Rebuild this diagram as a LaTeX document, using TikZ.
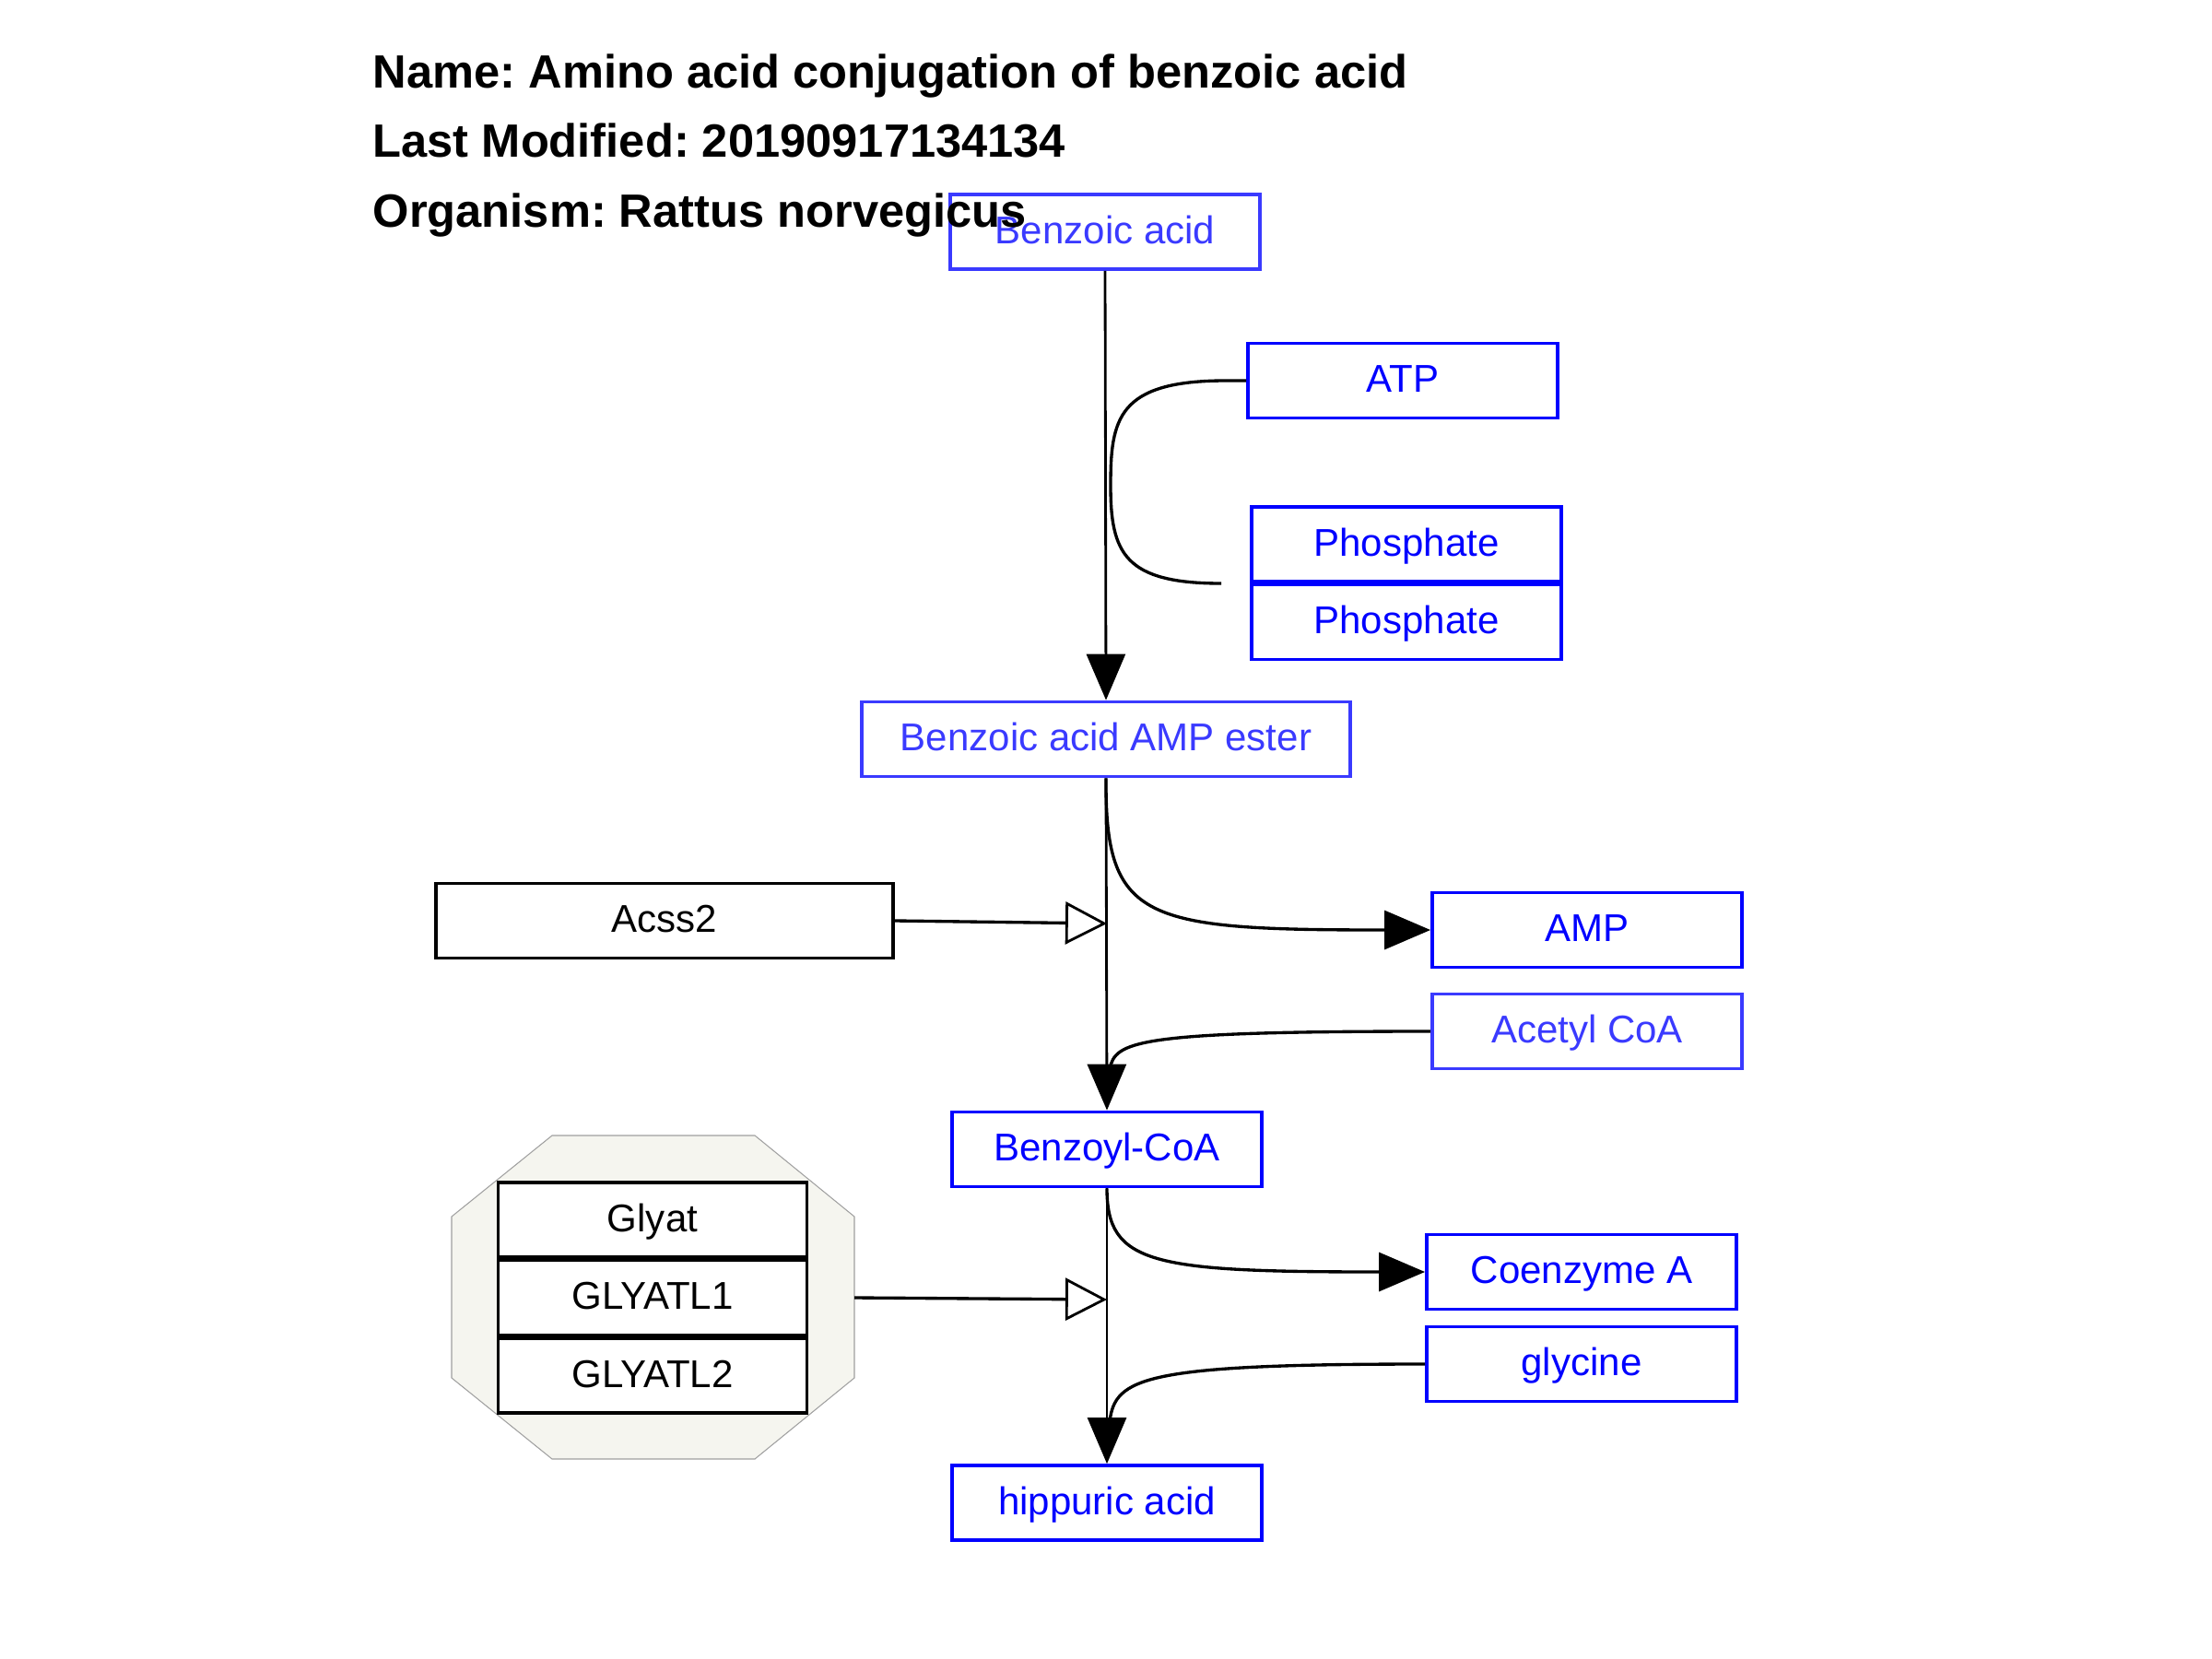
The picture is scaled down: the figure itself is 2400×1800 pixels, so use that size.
\documentclass[tikz,border=0pt]{standalone}
\usepackage{fontspec}
\setmainfont{Liberation Sans}
\usetikzlibrary{arrows.meta}
\frenchspacing
\definecolor{lblue}{RGB}{58,58,255}
\definecolor{dblue}{RGB}{0,0,255}
\definecolor{grpfill}{RGB}{245,245,239}
\definecolor{grpline}{RGB}{160,160,160}
\tikzset{
  box/.style={draw, line width=1.05pt, fill=white, inner sep=0pt,
    minimum width=3.36cm, minimum height=0.81cm,
    text height=7.3pt, text depth=0pt,
    font=\fontsize{11.95}{14}\selectfont},
  metab/.style={box, draw=dblue, text=dblue},
  metabl/.style={box, draw=lblue, text=lblue},
  gene/.style={box, draw=black, text=black},
  conn/.style={line width=0.95pt},
  mainln/.style={line width=0.8pt},
  fullhead/.style={-{Triangle[length=0.5cm,width=0.42cm]}},
  openhead/.style={-{Triangle[open,length=0.45cm,width=0.46cm,fill=white,line width=0.8pt]}},
  titletext/.style={anchor=base west, inner sep=0pt, font=\fontsize{14.4}{17}\selectfont\bfseries}
}
\begin{document}
\begin{tikzpicture}[x=0.01cm,y=-0.01cm]
\useasboundingbox (0,0) rectangle (2400,1800);

% group background
\path[fill=grpfill, draw=grpline, line width=0.3pt]
  (599,1232) -- (819,1232) -- (927,1320) -- (927,1495) -- (819,1583) -- (599,1583) -- (490,1495) -- (490,1320) -- cycle;
\coordinate (grp) at (927,1408);

% nodes
\node[metabl] (benz) at (1199,251.5) {Benzoic acid};
\node[metab] (atp) at (1522,413) {ATP};
\node[metab] (phos1) at (1526,590.5) {Phosphate};
\node[metab] (phos2) at (1526,675) {Phosphate};
\node[metabl, minimum width=5.3cm] (ester) at (1200,802) {Benzoic acid AMP ester};
\node[gene, minimum width=4.96cm] (acss2) at (721,999) {Acss2};
\node[metab] (amp) at (1722,1009) {AMP};
\node[metabl] (acetyl) at (1722,1119) {Acetyl CoA};
\node[metab] (bcoa) at (1201,1247) {Benzoyl-CoA};
\node[metab] (coa) at (1716,1380) {Coenzyme A};
\node[metab] (gly) at (1716,1480) {glycine};
\node[metab] (hipp) at (1201,1630.5) {hippuric acid};
\node[gene, minimum width=3.35cm] (glyat) at (708,1323.5) {Glyat};
\node[gene, minimum width=3.35cm] (glyatl1) at (708,1408) {GLYATL1};
\node[gene, minimum width=3.35cm] (glyatl2) at (708,1492.5) {GLYATL2};

\coordinate (anc1) at (1201,1002);
\coordinate (anc2) at (1201,1410);
\coordinate (atpend) at (1325,633);

% main reaction lines
\draw[mainln, fullhead] (benz.south) -- (ester.north);
\draw[mainln, fullhead] (ester.south) -- (bcoa.north);
\draw[mainln, fullhead] (bcoa.south) -- (hipp.north);

% ATP -> Phosphate side curve
\draw[conn] (atp.west) -- (1330,413) .. controls (1212,413) and (1205,455) .. (1205,527)
  .. controls (1205,600) and (1220,633) .. (atpend);

% products and co-substrates
\draw[conn, fullhead] (ester.south) .. controls (1199,1000) and (1240,1009) .. (amp.west);
\draw[conn] (acetyl.west) .. controls (1230,1119) and (1210,1130) .. (1204,1160);
\draw[conn, fullhead] (bcoa.south) .. controls (1201,1372) and (1250,1380) .. (coa.west);
\draw[conn] (gly.west) .. controls (1240,1480) and (1210,1495) .. (1204,1542);

% catalysis
\draw[conn, openhead] (acss2.east) -- (anc1);
\draw[conn, openhead] (grp) -- (anc2);

% title
\node[titletext] (t1) at (404,96) {Name: Amino acid conjugation of benzoic acid};
\node[titletext] (t2) at (404,171) {Last Modified: 20190917134134};
\node[titletext] (t3) at (404,246) {Organism: Rattus norvegicus};
\end{tikzpicture}
\end{document}
